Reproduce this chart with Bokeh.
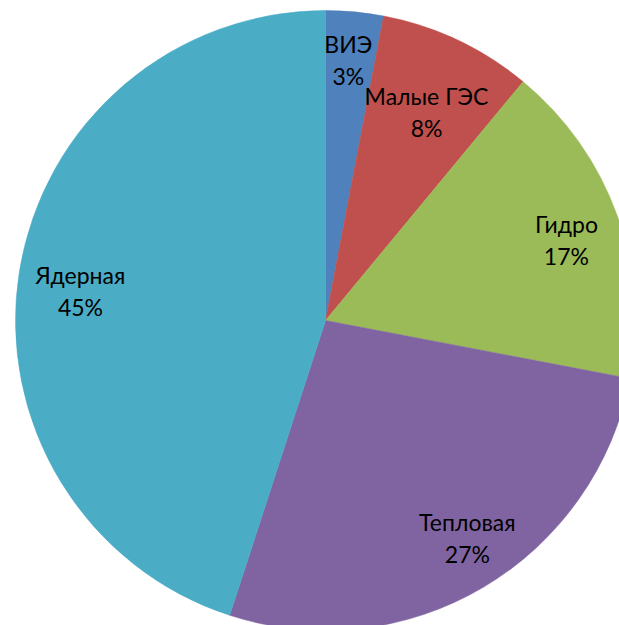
import numpy as np
from bokeh.plotting import figure
from bokeh.models import Range1d, ColumnDataSource
from bokeh.core.properties import value
from bokeh.embed import file_html
from bokeh.resources import INLINE

categories = ["ВИЭ", "Малые ГЭС", "Гидро", "Тепловая", "Ядерная"]
shares = [3, 8, 17, 27, 45]
colors = ["#4F81BD", "#C0504D", "#9BBB59", "#8064A2", "#4BACC6"]
# label placement (style): radius fraction and clockwise angle nudge in degrees
label_radius = [0.845, 0.746, 0.819, 0.838, 0.796]
label_nudge = [-0.4, 0.7, 1.4, -2.5, -2.25]

R = 310.0
total = float(sum(shares))
frac = np.array(shares) / total
cum_end = np.cumsum(frac)
cum_start = cum_end - frac
start_angle = np.pi / 2 - cum_end * 2 * np.pi
end_angle = np.pi / 2 - cum_start * 2 * np.pi
mid = np.pi / 2 - (cum_start + frac / 2) * 2 * np.pi - np.radians(label_nudge)
lr = np.array(label_radius) * R
lx = lr * np.cos(mid)
ly = lr * np.sin(mid)

src = ColumnDataSource(dict(
    start=start_angle, end=end_angle, color=colors,
    lx=lx, ly=ly, name=categories,
    pct=[f"{round(f * 100)}%" for f in frac],
))

p = figure(width=619, height=625, output_backend="svg", toolbar_location=None,
           x_range=Range1d(-325, 294), y_range=Range1d(-305, 320),
           min_border=0)
p.axis.visible = False
p.grid.visible = False
p.outline_line_color = None
p.background_fill_color = "white"

p.wedge(x=0, y=0, radius=R, start_angle="start", end_angle="end",
        fill_color="color", line_color="color", line_width=0.5, source=src)

common = dict(text_font=value("Lato"), text_font_size="23px", text_color="black",
              text_align="center", text_baseline="middle", source=src)
p.text(x="lx", y="ly", text="name", y_offset=-16, **common)
p.text(x="lx", y="ly", text="pct", y_offset=16, **common)

open("out.html", "w").write(file_html(p, INLINE))
